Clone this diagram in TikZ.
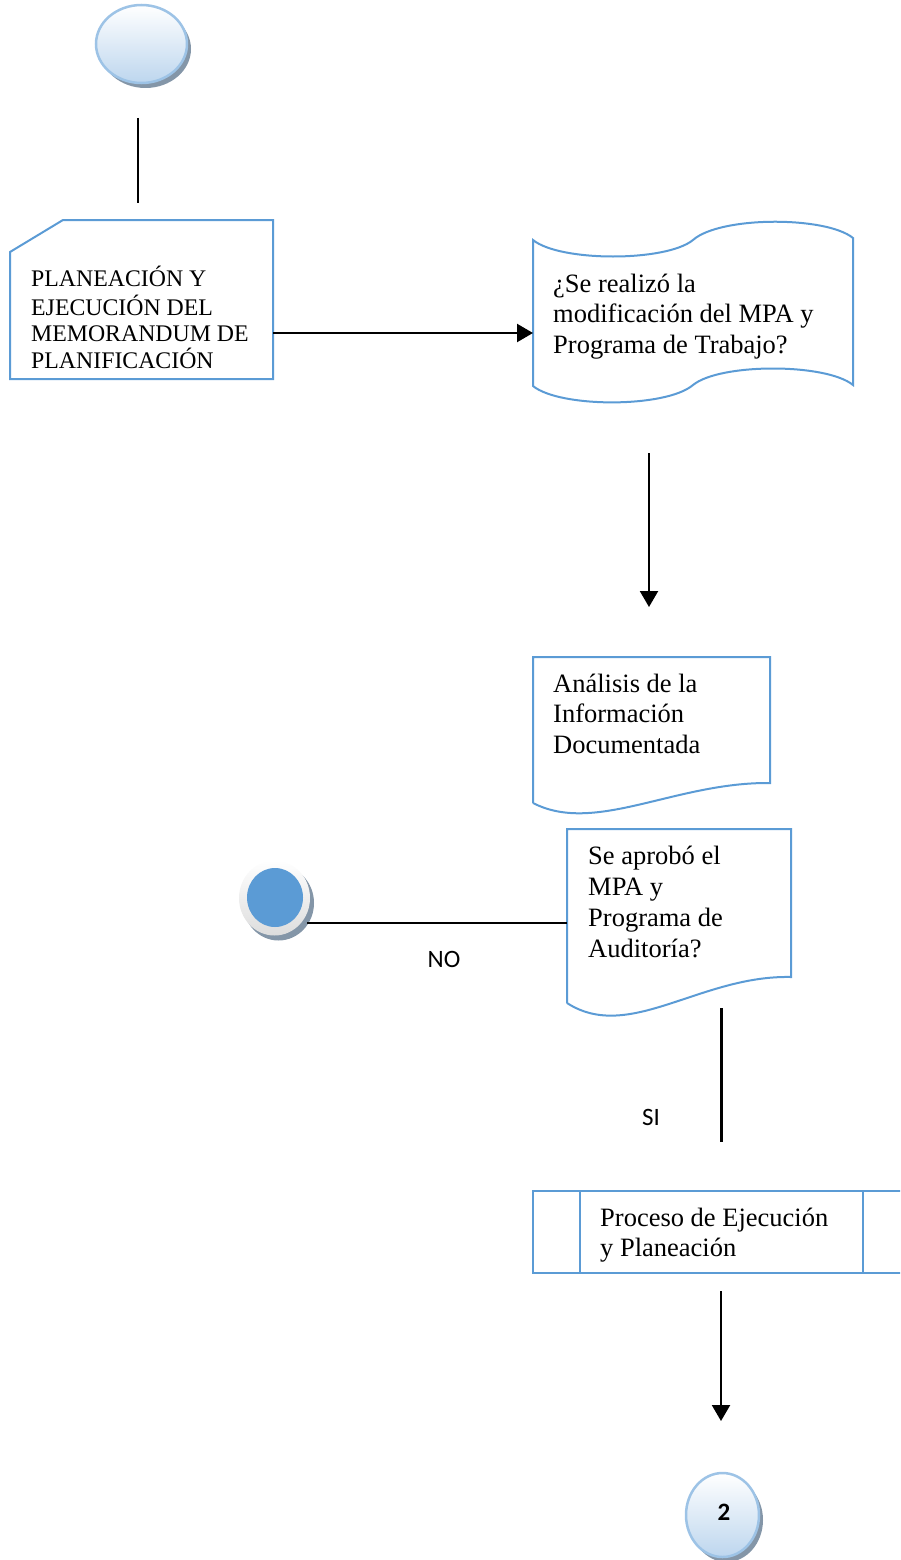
\documentclass[tikz,border=0pt]{standalone}
\usepackage{fontspec}
\setmainfont{Liberation Serif}
\newfontfamily\labelfont{Carlito}
\usetikzlibrary{arrows.meta,shapes.geometric,shadows}

\definecolor{outline}{HTML}{5B9BD5}
\definecolor{ringblue}{HTML}{9DC3E6}
\definecolor{shadegray}{HTML}{8496A8}
\definecolor{lightfill}{HTML}{BDD6EE}
\definecolor{ringgray}{HTML}{F0F0F0}

\tikzset{
  flowbox/.style={draw=outline, line width=2pt, line join=miter},
  conn/.style={draw=black, line width=2.2pt},
  arr/.style={conn, -{Triangle[width=18pt,length=16pt]}},
  boxtext/.style={anchor=north west, inner sep=0pt, align=left,
    font=\fontsize{26.5}{30.5}\selectfont},
  capstext/.style={boxtext, font=\fontsize{23.8}{26.3}\selectfont},
  pageconn/.style={ellipse, draw=ringblue, line width=2.5pt, inner sep=0pt,
    top color=white, bottom color=lightfill,
    drop shadow={shadow xshift=4pt, shadow yshift=-5pt, fill=shadegray, opacity=1}},
  branchtext/.style={font=\labelfont\fontsize{25}{30}\selectfont, inner sep=0pt}
}

\begin{document}
\begin{tikzpicture}[x=1pt, y=-1pt]
\useasboundingbox (0,0) rectangle (900,1560);
\clip (0,0) rectangle (900,1560);

% start connector
\node[pageconn, minimum width=91pt, minimum height=78pt] (start) at (141.5,44) {};
\coordinate (s1) at (138,118);
\coordinate (s2) at (138,203);
\draw[conn] (s1) -- (s2);

% planning card
\draw[flowbox] (10,252) -- (63,220) -- (273,220) -- (273,379) -- (10,379) -- cycle;
\node[capstext] (plan) at (31,265.5)
  {\strut PLANEACIÓN Y\\EJECUCIÓN DEL\\MEMORANDUM DE\\PLANIFICACIÓN};
\coordinate (planR) at (273,333);

% punched tape question
\draw[flowbox] (533,240) .. controls (560,262) and (666,262) .. (693,240)
  .. controls (720,216) and (826,216) .. (853,238) -- (853,385)
  .. controls (826,363) and (720,363) .. (693,385)
  .. controls (666,408) and (560,408) .. (533,386) -- cycle;
\node[boxtext] (q1) at (553,270.65)
  {\strut ¿Se realizó la\\modificación del MPA y\\Programa de Trabajo?};
\coordinate (q1L) at (533,333);
\draw[arr] (planR) -- (q1L);

\coordinate (a1) at (649,453);
\coordinate (a2) at (649,607);
\draw[arr] (a1) -- (a2);

% documented analysis
\draw[flowbox] (533,803) -- (533,657) -- (770,657) -- (770,783)
  .. controls (675,782) and (595,835) .. (533,803);
\node[boxtext] (analisis) at (553,670.65)
  {\strut Análisis de la\\Información\\Documentada};

% approval question
\draw[flowbox] (567,1003) -- (567,829) -- (791,829) -- (791,977)
  .. controls (700,975) and (629,1043) .. (567,1003);
\node[boxtext, font=\fontsize{26.5}{31}\selectfont] (q2) at (588,842.3)
  {\strut Se aprobó el\\MPA y\\Programa de\\Auditoría?};

% end point for the NO branch
\node[ellipse, inner sep=0pt, minimum width=71pt, minimum height=75pt,
  top color=white, bottom color=ringgray!92!black,
  drop shadow={shadow xshift=4pt, shadow yshift=-5pt, fill=shadegray, opacity=1}]
  (stop) at (274.5,898) {};
\node[ellipse, inner sep=0pt, minimum width=56pt, minimum height=59pt,
  fill=outline] (stopcore) at (275,897.5) {};
\coordinate (n1) at (307,923);
\coordinate (n2) at (567,923);
\draw[conn] (n1) -- (n2);
\node[branchtext] (no) at (444,959) {NO};

% YES branch
\coordinate (y1) at (721.5,1008);
\coordinate (y2) at (721.5,1142);
\draw[conn] (y1) -- (y2);
\node[branchtext] (si) at (651,1117) {SI};

% predefined process
\draw[flowbox] (533,1191) rectangle (911,1273);
\draw[flowbox] (580,1191) -- (580,1273);
\draw[flowbox] (863,1191) -- (863,1273);
\node[boxtext, font=\fontsize{26.5}{29.5}\selectfont] (proc) at (600,1205.65)
  {\strut Proceso de Ejecución\\y Planeación};

\coordinate (p1) at (721,1291);
\coordinate (p2) at (721,1421);
\draw[arr] (p1) -- (p2);

% off-page connector
\node[pageconn, minimum width=73pt, minimum height=84pt] (next) at (722.5,1515) {};
\node[font=\labelfont\bfseries\fontsize{25}{30}\selectfont, inner sep=0pt]
  (nextnum) at (724,1512) {2};
\end{tikzpicture}
\end{document}
